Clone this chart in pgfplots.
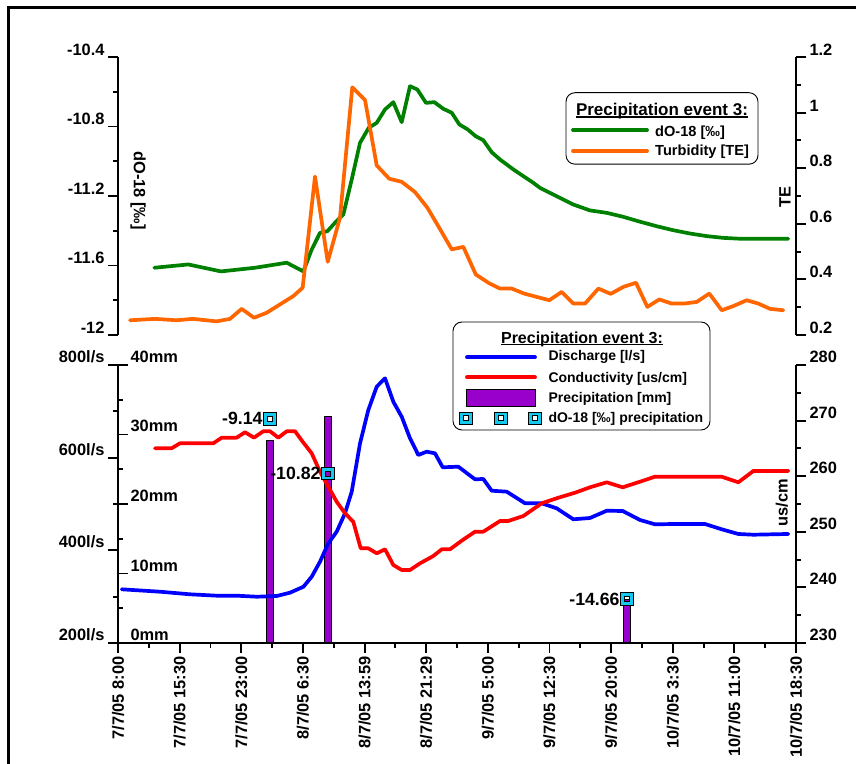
\documentclass[border=0pt]{standalone}
\usepackage{pgfplots}
\pgfplotsset{compat=1.18}
\usepackage{fontspec}
\setmainfont{Liberation Sans}
\definecolor{cgreen}{RGB}{0,128,0}
\definecolor{corange}{RGB}{255,102,0}
\definecolor{cblue}{RGB}{0,0,255}
\definecolor{cred}{RGB}{255,0,0}
\definecolor{cpurple}{RGB}{153,0,204}
\definecolor{ccyan}{RGB}{20,200,240}
\newcommand\tickfont{\fontsize{16.4}{18}\selectfont\bfseries}
\newcommand\annfont{\fontsize{17.7}{20}\selectfont\bfseries}
\newcommand\ltitlefont{\fontsize{17}{20}\selectfont\bfseries}
\newcommand\lentryfont{\fontsize{14.6}{17}\selectfont\bfseries}
\newcommand\btitlefont{\fontsize{16}{19}\selectfont\bfseries}
\newcommand\bentryfont{\fontsize{14}{17}\selectfont\bfseries}
\newcommand\ul[1]{\setbox0\hbox{#1}\rlap{\rule[-1.8pt]{\wd0}{1.3pt}}\box0}
\pgfplotsset{
  base/.style={scale only axis, width=678pt, height=278pt, xmin=0, xmax=82.5,
    anchor=south west,
    axis line style={line width=1.9pt, black, -},
    major tick style={line width=1.9pt, black},
    minor tick style={line width=1.9pt, black},
    major tick length=10pt, minor tick length=5pt,
    tick label style={font=\tickfont},
    /pgf/number format/assume math mode=true},
  dline/.style={line width=3.7pt, line join=round, line cap=round},
}
\begin{document}
\begin{tikzpicture}[x=1pt,y=1pt]
\useasboundingbox (0,0) rectangle (856,763);
\draw[line width=2.8pt] (8.3,-30) -- (8.3,755.5) -- (900,755.5);

% ---------- top panel: dO-18 (left) ----------
\begin{axis}[base, at={(118pt,428pt)},
  ymin=-12, ymax=-10.4, axis x line=none, axis y line*=left, xtick=\empty,
  ytick={-12,-11.6,-11.2,-10.8,-10.4}, yticklabels={-12,-11.6,-11.2,-10.8,-10.4},
  minor ytick={-11.8,-11.4,-11,-10.6}, tick align=outside,
  yticklabel style={anchor=base east, yshift=1.5pt}]
\addplot[cgreen, dline] table {
x y
4.42 -11.613
8.55 -11.594
12.53 -11.634
16.67 -11.613
20.53 -11.584
22.55 -11.634
23.57 -11.508
24.58 -11.412
25.47 -11.403
26.41 -11.354
27.42 -11.306
28.44 -11.105
29.45 -10.894
30.52 -10.807
31.48 -10.779
32.49 -10.702
33.50 -10.660
34.52 -10.775
35.53 -10.568
36.42 -10.587
37.48 -10.664
38.49 -10.660
39.58 -10.698
40.61 -10.721
41.53 -10.788
42.55 -10.817
43.53 -10.856
44.45 -10.879
45.47 -10.948
46.48 -10.990
48.10 -11.047
50.53 -11.124
51.35 -11.153
53.38 -11.201
55.40 -11.249
57.43 -11.283
59.47 -11.297
61.49 -11.320
63.52 -11.348
65.55 -11.374
67.57 -11.397
69.60 -11.416
71.64 -11.431
73.66 -11.441
75.69 -11.446
81.57 -11.446
};
\node[rotate=-90, font=\tickfont] at (axis description cs:0.0295,0.52) {dO-18 [‰]};
\end{axis}

% ---------- top panel: turbidity (right) ----------
\begin{axis}[base, at={(118pt,428pt)},
  ymin=0.2, ymax=1.2, axis x line=none, axis y line*=right, xtick=\empty,
  ytick={0.2,0.4,0.6,0.8,1,1.2}, yticklabels={0.2,0.4,0.6,0.8,1,1.2},
  minor ytick={0.3,0.5,0.7,0.9,1.1}, tick align=outside,
  yticklabel style={anchor=base west, yshift=1.5pt}]
\addplot[corange, dline] table {
x y
1.46 0.253
4.50 0.258
7.14 0.253
9.09 0.258
12.01 0.249
13.63 0.258
15.05 0.294
16.55 0.262
18.09 0.280
19.71 0.310
21.33 0.340
22.47 0.370
23.97 0.770
25.52 0.463
27.01 0.622
28.51 1.091
30.06 1.045
31.48 0.810
33.01 0.762
34.52 0.751
36.14 0.714
37.64 0.658
38.98 0.591
40.61 0.508
42.02 0.517
43.53 0.418
45.06 0.388
46.48 0.367
47.91 0.367
49.41 0.349
50.95 0.337
52.48 0.325
53.99 0.355
55.40 0.313
56.83 0.313
58.45 0.367
59.95 0.348
61.49 0.373
63.03 0.388
64.41 0.301
65.87 0.328
67.38 0.313
68.87 0.313
70.42 0.319
71.95 0.349
73.46 0.289
74.87 0.304
76.50 0.325
77.91 0.313
79.34 0.294
80.95 0.289
};
\node[rotate=90, font=\tickfont] at (axis description cs:0.9838,0.496) {TE};
\end{axis}

% ---------- bottom panel: precipitation bars (mm, inside left) ----------
\begin{axis}[base, at={(118pt,120pt)},
  ymin=0, ymax=40, axis x line=none, axis y line*=left, xtick=\empty,
  ytick={0,10,20,30,40}, yticklabels={0mm,10mm,20mm,30mm,40mm},
  minor ytick={5,15,25,35}, tick align=inside,
  yticklabel style={anchor=base west, xshift=9pt, yshift=2.5pt}]
\addplot[ybar, bar width=6.5pt, fill=cpurple, draw=black, line width=0.6pt] coordinates {
(18.50,29.2) (25.55,32.66) (61.94,6.3)};
\end{axis}

% ---------- bottom panel: discharge (left, outside) + x axis ----------
\begin{axis}[base, at={(118pt,120pt)},
  ymin=200, ymax=800, axis x line*=bottom, axis y line*=left,
  ytick={200,400,600,800}, yticklabels={200l/s,400l/s,600l/s,800l/s},
  minor ytick={300,500,700}, tick align=outside,
  yticklabel style={anchor=base east, yshift=2.5pt},
  xtick={0,7.5,15,22.5,30,37.5,45,52.5,60,67.5,75,82.5},
  xticklabels={7/7/05 8:00,7/7/05 15:30,7/7/05 23:00,8/7/05 6:30,8/7/05 13:59,8/7/05 21:29,9/7/05 5:00,9/7/05 12:30,9/7/05 20:00,10/7/05 3:30,10/7/05 11:00,10/7/05 18:30},
  minor xtick={3.75,11.25,18.75,26.25,33.75,41.25,48.75,56.25,63.75,71.25,78.75},
  xticklabel style={rotate=90, anchor=east}]
\addplot[cblue, dline] table {
x y
0.45 315.9
5.11 310.7
8.76 305.1
12.01 302.1
14.44 302.1
16.88 299.9
19.31 301.4
20.93 308.6
22.57 321.5
23.57 343.1
24.58 375.5
25.59 415.2
26.61 440.2
27.62 479.9
28.44 526.6
29.45 631.0
30.46 702.9
31.48 753.2
32.49 771.3
33.50 720.8
34.52 688.4
35.53 641.8
36.54 605.8
37.56 612.9
38.57 609.4
39.51 579.2
41.41 580.5
43.44 553.3
44.45 554.0
45.47 528.7
47.30 526.6
49.53 501.5
51.56 501.5
53.38 490.7
55.40 467.0
57.43 469.8
59.47 485.5
61.41 484.9
63.52 465.5
65.34 456.2
67.57 456.8
71.43 456.8
73.46 445.4
75.48 435.3
77.31 433.7
81.57 435.3
};
\end{axis}

% ---------- bottom panel: conductivity (right) ----------
\begin{axis}[base, at={(118pt,120pt)},
  ymin=230, ymax=280, axis x line=none, axis y line*=right, xtick=\empty,
  ytick={230,240,250,260,270,280}, yticklabels={230,240,250,260,270,280},
  minor ytick={235,245,255,265,275}, tick align=outside,
  yticklabel style={anchor=base west, yshift=2.5pt}]
\addplot[cred, dline] table {
x y
4.50 265.02
6.53 265.02
7.54 265.92
11.60 265.92
12.62 266.93
14.44 266.93
15.45 267.90
16.55 266.93
17.68 268.08
18.50 268.08
19.51 266.93
20.53 268.08
21.54 268.08
22.47 266.21
23.57 264.12
24.58 260.81
25.59 258.11
26.61 255.41
27.62 253.33
28.63 251.81
29.53 247.03
30.46 247.03
31.48 246.13
32.49 246.85
33.50 244.03
34.52 243.13
35.53 243.13
36.75 244.33
38.37 245.65
39.39 246.85
40.40 246.85
41.82 248.40
43.44 250.02
44.45 250.02
46.48 251.94
47.49 251.94
49.32 252.84
51.56 255.13
53.58 256.13
55.61 257.03
57.43 258.00
59.47 258.90
61.41 258.00
63.52 259.01
65.34 259.91
73.46 259.91
75.48 258.90
77.31 260.94
81.57 260.94
};
\node[rotate=90, font=\tickfont] at (axis description cs:0.979,0.504) {us/cm};
\end{axis}

% ---------- bottom panel: dO-18 of precipitation (markers) ----------
\begin{axis}[base, at={(118pt,120pt)}, ymin=-16, ymax=-7.5, hide axis, clip=false]
\addplot[only marks, mark=square, mark size=4.45pt, mark options={draw=ccyan, line width=3.2pt}] table {
x y
18.50 -9.14
25.55 -10.82
61.94 -14.66
};
\addplot[only marks, mark=square, mark size=6.3pt, mark options={draw=black, line width=0.8pt}] table {
x y
18.50 -9.14
25.55 -10.82
61.94 -14.66
};
\addplot[only marks, mark=square, mark size=2.6pt, mark options={draw=black, line width=0.8pt},
  nodes near coords, point meta=explicit symbolic,
  every node near coord/.append style={anchor=east, xshift=-6.6pt, font=\annfont, text=black, inner sep=0.5pt}]
  table[meta=lab] {
x y lab
18.50 -9.14 -9.14
25.55 -10.82 -10.82
61.94 -14.66 -14.66
};
\end{axis}

% ---------- legends ----------
\draw[rounded corners=9pt, line width=0.9pt, fill=white] (566,598.8) rectangle (758,670.3);
\node[anchor=base, font=\ltitlefont, inner sep=0pt] at (662,647) {\ul{Precipitation event 3:}};
\draw[cgreen, line width=3.8pt, line cap=round] (573,633) -- (647,633);
\node[anchor=base west, font=\lentryfont, inner sep=0pt] at (655,626) {dO-18 [‰]};
\draw[corange, line width=3.8pt, line cap=round] (573,612) -- (647,612);
\node[anchor=base west, font=\lentryfont, inner sep=0pt] at (655,607.5) {Turbidity [TE]};

\draw[rounded corners=9pt, line width=0.9pt, fill=white] (453,333) rectangle (710,441);
\node[anchor=base, font=\btitlefont, inner sep=0pt] at (582,419.8) {\ul{Precipitation event 3:}};
\draw[cblue, line width=3.8pt, line cap=round] (467,405.7) -- (535,405.7);
\node[anchor=base west, font=\bentryfont, inner sep=0pt] at (548.3,402) {Discharge [l/s]};
\draw[cred, line width=3.8pt, line cap=round] (467,385.7) -- (535,385.7);
\node[anchor=base west, font=\bentryfont, inner sep=0pt] at (548.3,380.7) {Conductivity [us/cm]};
\filldraw[fill=cpurple, draw=black, line width=0.8pt] (466,357) rectangle (535,373.7);
\node[anchor=base west, font=\bentryfont, inner sep=0pt] at (548.3,360.7) {Precipitation [mm]};
\foreach \xx in {466,500.7,535}{
  \filldraw[fill=ccyan, draw=black, line width=0.8pt] (\xx-6.3,338.4) rectangle (\xx+6.3,351);
  \filldraw[fill=white, draw=black, line width=0.8pt] (\xx-2.6,342.1) rectangle (\xx+2.6,347.3);
}
\node[anchor=base west, font=\bentryfont, inner sep=0pt] at (548.3,340.7) {dO-18 [‰] precipitation};
\end{tikzpicture}
\end{document}
